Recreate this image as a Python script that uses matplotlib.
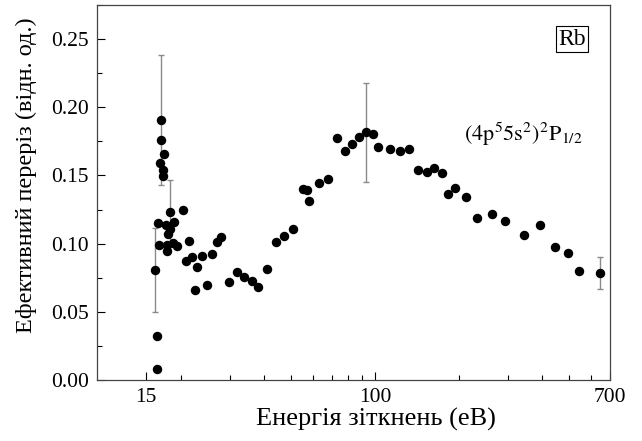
import matplotlib
matplotlib.use('Agg')
import matplotlib.pyplot as plt
from matplotlib.ticker import FixedLocator, LogLocator, MultipleLocator, NullFormatter

plt.rcParams['font.family'] = ['Liberation Serif', 'DejaVu Serif']
plt.rcParams['mathtext.fontset'] = 'stix'

# energy (eV) and cross section (arb. units)
energy = [16.2, 16.4, 16.4, 16.54, 16.71, 16.95, 17.03, 16.85, 17.23, 17.32,
          17.46, 17.67, 17.81, 17.85, 18.05, 18.3, 18.3, 18.81, 18.92, 19.45,
          20.43, 20.9, 21.48, 21.91, 22.52, 22.96, 23.92, 24.93, 25.86, 26.96,
          27.86, 29.85, 31.89, 33.88, 36.02, 37.94, 40.99, 43.94, 46.95, 50.84,
          54.94, 57.08, 58.03, 62.91, 67.92, 73.16, 78.22, 82.86, 87.8, 92.81,
          98.1, 102.8, 113.2, 123.0, 132.9, 143.2, 153.5, 163.4, 173.8, 183.5,
          194.1, 213.0, 233.3, 263.6, 293.4, 343.6, 393.1, 444.2, 494.7, 543.2,
          644.8]
sigma = [0.081, 0.0322, 0.0081, 0.1154, 0.0988, 0.1908, 0.176, 0.159, 0.1537, 0.1493,
         0.1657, 0.1135, 0.0988, 0.0947, 0.1074, 0.1108, 0.123, 0.1008, 0.1159, 0.0983,
         0.1245, 0.0873, 0.1017, 0.0903, 0.0659, 0.0829, 0.091, 0.0695, 0.0927, 0.1012,
         0.1049, 0.0722, 0.0796, 0.0754, 0.0727, 0.0686, 0.0815, 0.101, 0.1056, 0.1106,
         0.1398, 0.1396, 0.1312, 0.1442, 0.1471, 0.1771, 0.1679, 0.1728, 0.1781, 0.1818,
         0.1801, 0.1708, 0.1693, 0.1681, 0.1696, 0.1537, 0.1523, 0.1557, 0.152, 0.1364,
         0.1408, 0.1342, 0.1186, 0.1217, 0.1164, 0.1067, 0.1135, 0.0976, 0.0935, 0.08,
         0.0783]

# points that carry error bars
err_energy = [16.2, 16.95, 18.3, 92.81, 644.8]
err_sigma = [0.081, 0.1908, 0.123, 0.1818, 0.0783]
err_size = [0.0308, 0.0476, 0.0239, 0.0363, 0.0117]

fig = plt.figure(figsize=(6.42, 4.41), dpi=100)
ax = fig.add_axes([0.151, 0.138, 0.799, 0.851])

ax.errorbar(err_energy, err_sigma, yerr=err_size, fmt='none', ecolor='#8a8a8a',
            elinewidth=1.0, capsize=2.5, capthick=1.0, zorder=2)
ax.plot(energy, sigma, 'o', color='black', markersize=5.8, zorder=3)

ax.set_xscale('log')
ax.set_xlim(10, 700)
ax.set_ylim(0, 0.275)

ax.xaxis.set_major_locator(FixedLocator([15, 100, 700]))
ax.set_xticklabels(['15', '100', '700'])
ax.xaxis.set_minor_locator(LogLocator(base=10, subs=[2, 3, 4, 5, 6, 7, 8, 9]))
ax.xaxis.set_minor_formatter(NullFormatter())
ax.yaxis.set_major_locator(MultipleLocator(0.05))
ax.yaxis.set_minor_locator(MultipleLocator(0.025))
ax.yaxis.set_major_formatter(plt.FuncFormatter(lambda v, p: f'{v:.2f}'))

ax.tick_params(which='both', direction='in', top=False, right=False, labelsize=15.5)
ax.tick_params(which='major', length=6, width=0.8)
ax.tick_params(which='minor', length=3.5, width=0.8)
ax.tick_params(axis='x', pad=6)
ax.tick_params(axis='y', pad=6)
for s in ax.spines.values():
    s.set_color('#444444')
    s.set_linewidth(0.9)

ax.set_xlabel('Енергія зіткнень (еВ)', fontsize=19, labelpad=0, x=0.544)
ax.set_ylabel('Ефективний переріз (відн. од.)', fontsize=17.5, labelpad=10, y=0.547)

ax.text(0.926, 0.909, 'Rb', transform=ax.transAxes, fontsize=17, ha='center', va='center',
        bbox=dict(boxstyle='square,pad=0.1', facecolor='white', edgecolor='black', linewidth=0.8))
ax.text(0.715, 0.655, r'$\mathrm{(4p^{5}5s^{2})^{2}P_{1/2}}$', transform=ax.transAxes,
        fontsize=16, ha='left', va='center')

fig.savefig('out.png', dpi=100)
